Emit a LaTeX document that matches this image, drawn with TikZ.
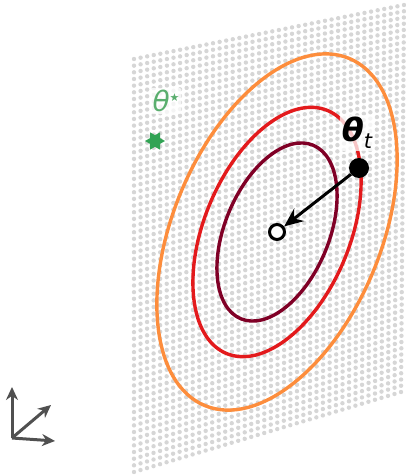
\documentclass[tikz,border=0pt]{standalone}
\usepackage{fontspec}
\newfontfamily\dv{DejaVu Sans}
\usetikzlibrary{arrows.meta,shapes.geometric}
\definecolor{dotgray}{HTML}{D6D6D6}
\definecolor{corange}{HTML}{FD8D3C}
\definecolor{cred}{HTML}{E31A1C}
\definecolor{cmaroon}{HTML}{800026}
\definecolor{stargreen}{HTML}{31A354}
\definecolor{labgreen}{HTML}{5AAE6E}
\definecolor{axgray}{HTML}{505050}
\tikzset{
  contour/.style={line width=3.4pt},
  lbl/.style={fill=white, fill opacity=0.75, text opacity=1, inner sep=2pt, rounded corners=2pt},
  axarrow/.style={axgray, line width=3pt, -{Stealth[length=13pt,width=12pt]}},
}
\begin{document}
\begin{tikzpicture}[x=1pt,y=-1pt]
\useasboundingbox (0,0) rectangle (406,476);
% dotted plane
\foreach \i in {0,...,41}{
  \foreach \j in {0,...,62}{
    \pgfmathsetmacro\u{\i/41}
    \pgfmathsetmacro\v{\j/62}
    \pgfmathsetmacro\px{(1-\u)*134 + \u*(404*(1-\v)+401*\v)}
    \pgfmathsetmacro\py{(1-\u)*(59+413*\v) + \u*(5+387*\v)}
    \fill[dotgray] (\px,\py) circle (2.2pt);
  }
}
% contours
\begin{scope}[rotate around={-22.6:(277,232)}]
  \draw[contour, corange] (277,232) ellipse [x radius=104, y radius=188];
  \draw[contour, cred] (277,232) ellipse [x radius=72.8, y radius=131.6];
  \draw[contour, cmaroon] (277,232) ellipse [x radius=52, y radius=94];
\end{scope}
% labels
\node[lbl, text=labgreen] (ls) at (166,101) {\dv\fontsize{28pt}{30pt}\selectfont\itshape θ\raisebox{10pt}{\fontsize{11pt}{11pt}\selectfont ★}};
\node[star, star points=6, star point ratio=1.73, shape border rotate=90, fill=stargreen, minimum size=20pt, inner sep=0pt] (star) at (155,141) {};
\node[lbl] (lt) at (357,133) {\dv\fontsize{32pt}{34pt}\selectfont\bfseries\itshape θ\raisebox{-7pt}{\fontsize{21pt}{21pt}\selectfont\mdseries t}};
% points
\node[circle, fill=black, minimum size=20pt, inner sep=0pt] (tt) at (359,168) {};
\node[circle, draw=black, line width=3pt, fill=white, minimum size=15pt, inner sep=0pt] (opt) at (277,232) {};
\draw[line width=3pt, -{Stealth[length=19pt,width=16pt]}] (tt) -- (opt);
% axes icon
\coordinate (o) at (12,438);
\coordinate (ax) at (55,441);
\coordinate (ay) at (12,387);
\coordinate (az) at (51,405);
\draw[axarrow] (o) -- (ay);
\draw[axarrow] (o) -- (ax);
\draw[axarrow] (o) -- (az);
\end{tikzpicture}
\end{document}
